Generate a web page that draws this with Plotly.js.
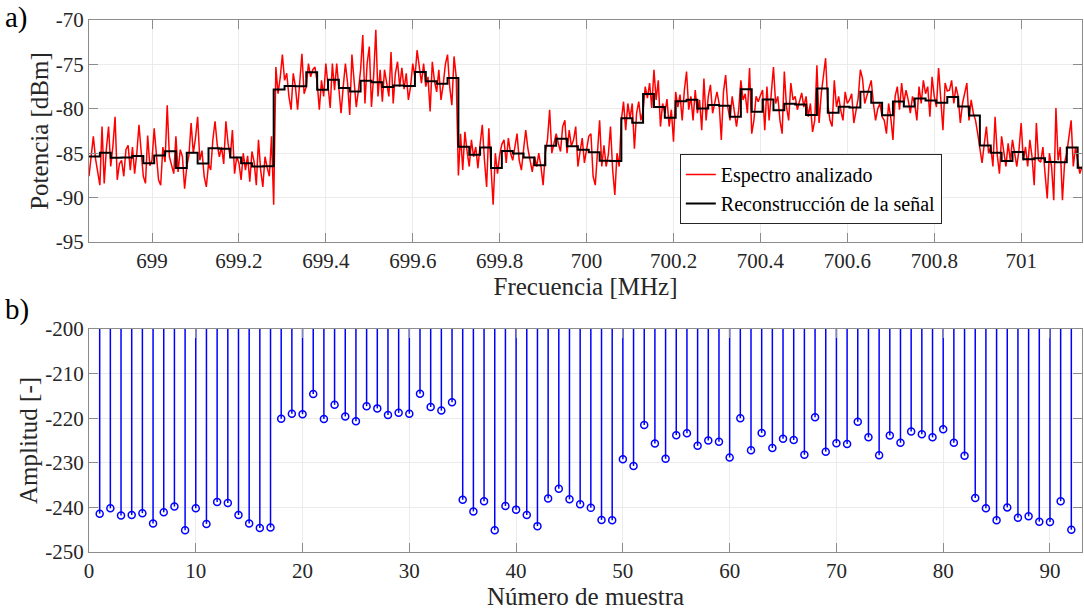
<!DOCTYPE html>
<html>
<head>
<meta charset="utf-8">
<script src="https://cdn.plot.ly/plotly-3.0.1.min.js"></script>
<style>
  html, body { margin: 0; padding: 0; background: #ffffff; }
  #chart { width: 1084px; height: 611px; }
</style>
</head>
<body>
<div id="chart"></div>
<script>
// ---- (a) analysed spectrum: one reading every 0.005 MHz from the start frequency ----
const spectrumStartMHz = 698.855;
const spectrumStepMHz = 0.005;
const spectrumPower = [
  -87.6, -85.0, -83.1, -85.6, -87.4, -88.6, -82.0, -88.4, -84.5, -82.0,
  -86.5, -84.2, -80.9, -88.0, -86.2, -85.8, -87.6, -84.6, -84.1, -86.9,
  -84.3, -87.3, -85.0, -81.8, -84.8, -87.6, -88.4, -83.0, -86.4, -85.8,
  -82.2, -85.1, -88.0, -88.6, -84.3, -86.0, -79.6, -85.4, -86.3, -87.3,
  -83.1, -87.1, -84.6, -85.4, -89.0, -86.5, -85.2, -81.6, -85.0, -83.3,
  -80.9, -85.8, -84.7, -87.6, -88.8, -86.2, -86.9, -83.5, -81.4, -84.0,
  -85.4, -84.3, -86.2, -81.4, -83.9, -85.5, -82.4, -87.3, -85.4, -86.1,
  -88.0, -85.0, -86.9, -85.3, -88.2, -84.8, -86.0, -88.6, -83.5, -86.9,
  -88.8, -85.4, -86.6, -87.6, -83.1, -90.8, -75.3, -78.3, -76.5, -73.9,
  -76.8, -76.0, -78.6, -80.1, -76.0, -77.5, -80.1, -77.1, -73.8, -78.3,
  -77.5, -74.9, -76.4, -75.6, -75.3, -77.0, -80.1, -76.8, -78.6, -74.9, -77.1,
  -79.9, -74.9, -77.9, -74.9, -77.3, -80.5, -77.5, -74.9, -77.1, -80.7,
  -73.9, -77.0, -79.8, -77.9, -75.6, -71.7, -79.4, -74.9, -73.0, -79.8,
  -76.3, -71.1, -78.6, -75.6, -79.2, -75.6, -77.3, -78.6, -73.6, -79.4,
  -76.0, -74.7, -77.5, -75.4, -77.8, -76.0, -79.0, -77.5, -74.9, -76.5, -73.4,
  -75.0,
  -77.1, -74.9, -77.5, -76.4, -80.3, -74.7, -76.9, -78.1, -75.6, -79.0,
  -77.3, -75.0, -73.9, -77.5, -79.6, -74.1, -76.4, -87.5,
  -82.8, -86.9, -82.6, -84.8, -86.5, -83.5, -85.4, -84.3, -86.7, -84.0,
  -81.8, -85.8, -88.8, -82.2, -86.1, -90.8, -85.0, -87.3, -85.2, -84.0,
  -83.5, -86.1, -83.3, -85.0, -85.8, -84.0, -82.8, -85.8, -86.9, -84.6,
  -82.4, -84.5, -85.8, -87.1, -85.4, -86.5, -85.0, -86.5, -88.6, -85.0,
  -83.5, -80.1, -85.0, -83.8, -82.8, -83.9, -84.8, -82.0, -81.3, -85.0,
  -82.4, -84.2, -83.5, -82.0, -86.5, -84.8, -83.3, -86.1, -84.5, -83.1,
  -82.8, -87.6, -88.6, -84.3, -81.3, -86.5, -84.1, -86.5, -85.2, -82.0,
  -86.9, -89.7, -85.0, -86.5, -81.3, -79.2, -82.4, -79.4, -81.1, -79.4,
  -84.5, -80.5, -79.2, -81.3, -80.2, -77.5, -78.8, -77.1, -79.9, -75.6,
  -79.0, -76.8, -82.0, -79.4, -80.5, -78.9, -82.0, -80.1, -83.7, -78.1,
  -79.8, -78.4, -81.3, -77.9, -75.8, -80.1, -78.6, -81.3, -77.9, -80.5,
  -79.0, -82.4, -76.6, -81.3, -78.6, -77.3, -80.5, -79.3, -78.1, -79.4,
  -83.5, -78.1, -76.2, -79.8, -81.3, -78.6, -80.2, -82.0, -80.1, -76.8,
  -79.0, -78.3, -80.5, -75.4, -82.8,
  -81.3, -78.6, -79.2, -78.5, -77.9, -82.4, -77.5, -81.3, -78.6, -75.3,
  -79.4, -78.6, -81.3, -82.8, -75.8, -79.8, -81.3, -77.1, -79.0, -78.6,
  -80.1, -79.0, -78.2, -79.8, -78.6, -80.9, -79.4, -82.6, -81.3, -75.1,
  -81.6, -78.3, -76.5, -74.3, -79.5, -81.3, -82.0, -76.8, -79.8, -78.6,
  -80.2, -81.3, -78.1, -79.4, -79.0, -78.3, -81.6, -80.1, -78.8, -75.6,
  -76.6, -79.4, -78.5, -77.9, -76.8, -79.4, -81.3, -80.0, -79.4, -80.9,
  -81.3, -82.8, -79.4, -81.0, -83.5, -78.6, -77.5, -80.1, -77.1, -79.4,
  -77.9, -79.0, -80.5, -78.6, -79.4, -81.3, -77.5, -79.4, -76.8, -78.3,
  -77.5, -80.9, -76.4, -78.6, -79.8, -75.4, -78.6, -82.4, -77.1, -78.0,
  -77.9, -76.8, -79.4, -77.5, -78.6, -81.6, -79.4, -78.2, -77.1, -81.3,
  -79.0, -80.5, -81.3, -82.8, -84.3, -86.1, -84.0, -82.0, -85.0, -84.3,
  -86.5, -80.9, -85.2, -87.3, -83.1, -85.0, -86.5, -83.9, -85.8, -83.5,
  -85.2, -86.5, -84.6, -81.6, -85.8, -84.3, -86.5, -83.5, -85.4, -88.6,
  -81.6, -85.8, -86.0, -84.3, -87.3, -90.1, -85.0, -86.5, -90.3, -79.9,
  -85.8, -84.3, -90.3, -86.0, -85.0, -83.1, -81.3, -86.5, -84.3, -85.8, -87.3, -86.5
];

// ---- (a) reconstructed signal: one level per 0.025 MHz bin ----
const binWidthMHz = 0.025;
const reconstructionPower = [
  -85.36, -84.94, -85.50, -85.47, -85.32, -86.14, -85.25, -84.79, -86.67, -84.94,
  -86.17, -84.44, -84.51, -85.47, -86.14, -86.49, -86.46, -77.83, -77.44, -77.47,
  -75.88, -77.86, -76.73, -77.65, -78.04, -76.84, -77.01, -77.54, -77.37, -77.44,
  -75.85, -76.91, -77.19, -76.52, -84.26, -85.18, -84.37, -86.67, -84.76, -85.04,
  -85.47, -86.35, -84.16, -83.38, -84.23, -84.62, -84.90, -85.85, -85.89, -81.05,
  -81.58, -78.32, -79.81, -81.01, -79.14, -78.99, -79.98, -79.56, -79.67, -80.90,
  -77.79, -80.34, -78.96, -80.16, -79.42, -79.52, -80.69, -77.72, -80.44, -79.77,
  -79.84, -78.08, -79.31, -80.73, -79.17, -79.74, -78.85, -79.06, -79.31, -78.68,
  -79.74, -80.76, -84.12, -84.94, -85.89, -84.86, -85.68, -85.57, -86.00, -86.03,
  -84.37, -86.63
];

// ---- (b) sample amplitudes, samples numbered from 1 ----
const sampleAmplitude = [
  -241.4, -240.2, -241.8, -241.7, -241.3, -243.6, -241.1, -239.8, -245.1, -240.2,
  -243.7, -238.8, -239.0, -241.7, -243.6, -244.6, -244.5, -220.1, -219.0, -219.1,
  -214.6, -220.2, -217.0, -219.6, -220.7, -217.3, -217.8, -219.3, -218.8, -219.0,
  -214.5, -217.5, -218.3, -216.4, -238.3, -240.9, -238.6, -245.1, -239.7, -240.5,
  -241.7, -244.2, -238.0, -235.8, -238.2, -239.3, -240.1, -242.8, -242.9, -229.2,
  -230.7, -221.5, -225.7, -229.1, -223.8, -223.4, -226.2, -225.0, -225.3, -228.8,
  -220.0, -227.2, -223.3, -226.7, -224.6, -224.9, -228.2, -219.8, -227.5, -225.6,
  -225.8, -220.8, -224.3, -228.3, -223.9, -225.5, -223.0, -223.6, -224.3, -222.5,
  -225.5, -228.4, -237.9, -240.2, -242.9, -240.0, -242.3, -242.0, -243.2, -243.3,
  -238.6, -245.0
];
const stemBase = -200;

// ---- tick labels ----
const freqTicks = [699, 699.2, 699.4, 699.6, 699.8, 700, 700.2, 700.4, 700.6, 700.8, 701];
const freqTickText = ['699', '699.2', '699.4', '699.6', '699.8', '700', '700.2', '700.4', '700.6', '700.8', '701'];
const powerTicks = [-95, -90, -85, -80, -75, -70];
const powerTickText = ['-95', '-90', '-85', '-80', '-75', '-70'];
const sampleTicks = [0, 10, 20, 30, 40, 50, 60, 70, 80, 90];
const sampleTickText = ['0', '10', '20', '30', '40', '50', '60', '70', '80', '90'];
const ampTicks = [-250, -240, -230, -220, -210, -200];
const ampTickText = ['-250', '-240', '-230', '-220', '-210', '-200'];

// ---- traces ----
const spectrumFreq = spectrumPower.map((_, i) => spectrumStartMHz + i * spectrumStepMHz);

// step line: each level held across its bin, last level closed at the bin's end
const binEdges = reconstructionPower.map((_, k) => spectrumStartMHz + k * binWidthMHz);
binEdges.push(spectrumStartMHz + reconstructionPower.length * binWidthMHz);
const stepLevels = reconstructionPower.concat([reconstructionPower[reconstructionPower.length - 1]]);

const sampleNumber = sampleAmplitude.map((_, k) => k + 1);
const stemX = [], stemY = [];
sampleAmplitude.forEach((v, k) => {
  stemX.push(sampleNumber[k], sampleNumber[k], null);
  stemY.push(stemBase, v, null);
});

const traces = [
  {
    type: 'scatter', mode: 'lines', name: 'Espectro analizado',
    x: spectrumFreq, y: spectrumPower, xaxis: 'x', yaxis: 'y',
    line: { color: '#ff0000', width: 1.5 }
  },
  {
    type: 'scatter', mode: 'lines', name: 'Reconstrucción de la señal',
    x: binEdges, y: stepLevels, xaxis: 'x', yaxis: 'y',
    line: { color: '#000000', width: 2, shape: 'hv' }
  },
  {
    type: 'scatter', mode: 'lines', showlegend: false,
    x: stemX, y: stemY, xaxis: 'x2', yaxis: 'y2',
    line: { color: '#0000ff', width: 1.5 }
  },
  {
    type: 'scatter', mode: 'markers', showlegend: false,
    x: sampleNumber, y: sampleAmplitude, xaxis: 'x2', yaxis: 'y2',
    marker: { symbol: 'circle-open', size: 7, color: '#0000ff', line: { width: 1.5, color: '#0000ff' } }
  }
];

const serif = 'Liberation Serif, serif';
const axisLine = '#8c8c8c';
const gridCol = '#ebebeb';
const tickFont = { family: serif, size: 21, color: '#262626' };
const titleFont = { family: serif, size: 25, color: '#262626' };
const baseAxis = {
  showline: true, linecolor: axisLine, linewidth: 1, mirror: 'ticks',
  ticks: 'inside', ticklen: 9, tickcolor: axisLine, tickwidth: 1,
  showgrid: true, gridcolor: gridCol, gridwidth: 1, zeroline: false,
  tickmode: 'array', tickfont: tickFont
};

const layout = {
  width: 1084, height: 611,
  margin: { l: 89, r: 2, t: 20, b: 59 },
  paper_bgcolor: '#ffffff', plot_bgcolor: '#ffffff',
  font: { family: serif, size: 21, color: '#262626' },
  showlegend: true,
  legend: {
    x: 0.595, y: 0.748, xanchor: 'left', yanchor: 'top',
    bgcolor: '#ffffff', bordercolor: '#262626', borderwidth: 1,
    font: { family: serif, size: 20, color: '#000000' }, itemwidth: 30, tracegroupgap: 0
  },
  xaxis: Object.assign({}, baseAxis, {
    domain: [0, 1], anchor: 'y', range: [698.855, 701.14],
    tickvals: freqTicks, ticktext: freqTickText,
    title: { text: 'Frecuencia [MHz]', font: titleFont, standoff: 3 }
  }),
  yaxis: Object.assign({}, baseAxis, {
    domain: [0.5827, 1], anchor: 'x', range: [-95, -70],
    tickvals: powerTicks, ticktext: powerTickText,
    title: { text: 'Potencia [dBm]', font: titleFont, standoff: 0 }
  }),
  xaxis2: Object.assign({}, baseAxis, {
    domain: [0, 1], anchor: 'y2', range: [0, 93],
    tickvals: sampleTicks, ticktext: sampleTickText,
    title: { text: 'Número de muestra', font: titleFont, standoff: 3 }
  }),
  yaxis2: Object.assign({}, baseAxis, {
    domain: [0, 0.4192], anchor: 'x2', range: [-250, -200],
    tickvals: ampTicks, ticktext: ampTickText,
    title: { text: 'Amplitud [-]', font: titleFont, standoff: 0 }
  }),
  annotations: [
    { text: 'a)', xref: 'paper', yref: 'paper', x: -0.0866, y: 1.004, xanchor: 'left', yanchor: 'middle',
      showarrow: false, font: { family: serif, size: 29, color: '#000000' } },
    { text: 'b)', xref: 'paper', yref: 'paper', x: -0.0866, y: 0.4549, xanchor: 'left', yanchor: 'middle',
      showarrow: false, font: { family: serif, size: 29, color: '#000000' } }
  ]
};

Plotly.newPlot('chart', traces, layout, { displayModeBar: false, staticPlot: true });
</script>
</body>
</html>
